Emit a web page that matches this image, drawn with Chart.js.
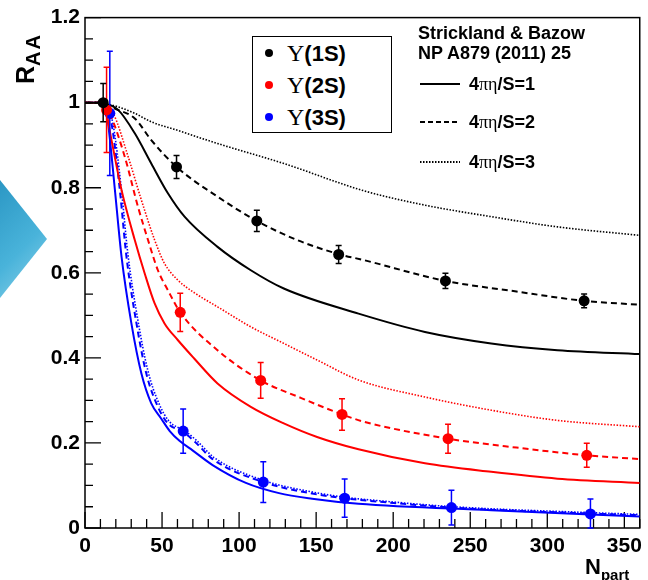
<!DOCTYPE html>
<html>
<head>
<meta charset="utf-8">
<script src="https://cdn.jsdelivr.net/npm/chart.js@4.4.1/dist/chart.umd.min.js"></script>
<style>
  body { margin: 0; background: #fff; }
  #wrap { position: relative; width: 648px; height: 580px; overflow: hidden;
          font-family: 'Liberation Sans', Arial, sans-serif; }
  #chart { position: absolute; left: 0; top: 0; }
  .lbl { position: absolute; font-weight: bold; color: #000; white-space: nowrap; }
  .serif { font-family: 'Liberation Serif', 'Times New Roman', serif; font-weight: normal; }
  #arrow { position: absolute; left: 0; top: 180px; width: 47px; height: 118px;
           background: linear-gradient(135deg, #2b97c4 0%, #49b3da 55%, #8fd3ea 100%);
           clip-path: polygon(0 0, 100% 50%, 0 100%); }
  #legendBox { position: absolute; left: 252px; top: 36px; width: 138px; height: 95px;
               border: 1.5px solid #000; background: #fff; }
  .dot { position: absolute; width: 8px; height: 8px; border-radius: 50%; }
  .row { position: absolute; left: 287px; font-size: 22px; line-height: 22px; font-weight: bold; }
  .row .serif { font-size: 24px; }
  .ann { position: absolute; font-size: 18px; line-height: 18px; font-weight: bold; }
</style>
</head>
<body>
<div id="wrap">
  <canvas id="chart" width="648" height="580"></canvas>
  <div id="arrow"></div>

  <div class="lbl" style="left:13px; top:84px; font-size:25px; line-height:25px; transform-origin:left top; transform:rotate(-90deg);">R<sub style="font-size:20px; vertical-align:-6px; letter-spacing:2px;">AA</sub></div>
  <div class="lbl" style="left:585px; top:556px; font-size:22px; line-height:22px;">N<sub style="font-size:15px; vertical-align:-6px;">part</sub></div>

  <div id="legendBox"></div>
  <div class="dot" style="left:265px; top:49px; background:#000;"></div>
  <div class="dot" style="left:265px; top:81px; background:#ff0000;"></div>
  <div class="dot" style="left:265px; top:113px; background:#0000ff;"></div>
  <div class="row" style="top:42px;"><span class="serif">Υ</span>(1S)</div>
  <div class="row" style="top:74px;"><span class="serif">Υ</span>(2S)</div>
  <div class="row" style="top:106px;"><span class="serif">Υ</span>(3S)</div>

  <div class="ann" style="left:418px; top:24px;">Strickland &amp; Bazow</div>
  <div class="ann" style="left:418px; top:44px;">NP A879 (2011) 25</div>

  <svg style="position:absolute; left:418px; top:70px;" width="46" height="100">
    <line x1="2" y1="14" x2="42" y2="14" stroke="#000" stroke-width="2"/>
    <line x1="2" y1="52" x2="42" y2="52" stroke="#000" stroke-width="2" stroke-dasharray="5,3"/>
    <line x1="2" y1="92" x2="42" y2="92" stroke="#000" stroke-width="2" stroke-dasharray="1.5,1.5"/>
  </svg>
  <div class="ann" style="left:469px; top:75px;">4<span class="serif">πη</span>/S=1</div>
  <div class="ann" style="left:469px; top:113px;">4<span class="serif">πη</span>/S=2</div>
  <div class="ann" style="left:469px; top:153px;">4<span class="serif">πη</span>/S=3</div>
</div>

<script>
// Strickland & Bazow curves, R_AA vs N_part
const ups1S_eta1_N = [0, 10, 12.3, 21.5, 32.3, 43, 53.8, 64.6, 86, 107.6, 129, 177.5, 220.6, 263.6, 306.6, 360];
const ups1S_eta1_R = [1, 1, 0.999, 0.983, 0.928, 0.857, 0.787, 0.732, 0.661, 0.606, 0.563, 0.504, 0.461, 0.434, 0.418, 0.409];
const ups1S_eta2_N = [0, 10, 13, 20, 32.3, 43, 59.4, 86, 111.5, 137.7, 164.6, 180.8, 233.9, 280, 323.9, 360];
const ups1S_eta2_R = [1, 1, 0.996, 0.985, 0.963, 0.912, 0.849, 0.779, 0.722, 0.677, 0.644, 0.63, 0.581, 0.556, 0.534, 0.525];
const ups1S_eta3_N = [0, 10, 13, 21.5, 32.3, 43, 60, 86, 129, 180.8, 220.6, 263.6, 306.6, 360];
const ups1S_eta3_R = [1, 1, 0.998, 0.99, 0.975, 0.955, 0.935, 0.904, 0.857, 0.793, 0.759, 0.732, 0.708, 0.688];

const ups2S_eta1_N = [0, 10, 12.9, 17.2, 23.7, 32.3, 38.7, 45.2, 51.6, 60.2, 71, 86, 107.6, 129, 150.6, 177.5, 220.6, 263.6, 306.6, 360];
const ups2S_eta1_R = [1, 1, 0.99, 0.912, 0.795, 0.677, 0.599, 0.528, 0.481, 0.442, 0.398, 0.34, 0.285, 0.246, 0.214, 0.185, 0.152, 0.132, 0.116, 0.106];
const ups2S_eta2_N = [0, 10, 13, 16, 25.8, 34.4, 40.9, 47.3, 53.8, 61.8, 86, 114, 140, 166.8, 180.8, 235.6, 280, 325.6, 360];
const ups2S_eta2_R = [1, 1, 0.99, 0.975, 0.873, 0.755, 0.677, 0.606, 0.559, 0.507, 0.418, 0.347, 0.306, 0.267, 0.25, 0.21, 0.189, 0.171, 0.162];
const ups2S_eta3_N = [0, 10, 14, 18.3, 28, 36.6, 45.2, 51.6, 60.2, 71, 86, 107.6, 129, 150.6, 177.5, 220.6, 263.6, 306.6, 360];
const ups2S_eta3_R = [1, 1, 0.99, 0.975, 0.873, 0.771, 0.677, 0.622, 0.583, 0.553, 0.52, 0.473, 0.434, 0.395, 0.348, 0.308, 0.277, 0.253, 0.238];

const ups3S_eta1_N = [0, 10, 13, 15, 19.4, 23.7, 30.1, 36.6, 43, 49.5, 55, 61.3, 70, 82.8, 104.4, 125.9, 147.4, 177.5, 263.6, 360];
const ups3S_eta1_R = [1, 1, 0.99, 0.951, 0.795, 0.638, 0.481, 0.363, 0.293, 0.257, 0.228, 0.205, 0.182, 0.148, 0.106, 0.082, 0.069, 0.057, 0.042, 0.027];
const ups3S_eta2_N = [0, 10, 13.5, 17.2, 22.6, 26.9, 33.4, 39.8, 47.3, 53.8, 63.5, 71, 82.8, 115.7, 147.4, 168.5, 190.4, 237.8, 328, 360];
const ups3S_eta2_R = [1, 1, 0.99, 0.951, 0.795, 0.638, 0.481, 0.363, 0.285, 0.246, 0.226, 0.204, 0.162, 0.108, 0.081, 0.07, 0.062, 0.048, 0.034, 0.03];
const ups3S_eta3_N = [0, 10, 14, 18, 23.5, 27.8, 34.3, 40.8, 48.3, 54.8, 64.5, 72, 84, 116.7, 148.4, 169.5, 191.4, 238.8, 329, 360];
const ups3S_eta3_R = [1, 1, 0.99, 0.953, 0.8, 0.645, 0.489, 0.37, 0.29, 0.25, 0.229, 0.207, 0.165, 0.111, 0.084, 0.072, 0.064, 0.05, 0.036, 0.032];

// data points with errors
const data1S_N = [11.8, 59.4, 111.5, 164.6, 233.9, 323.9];
const data1S_R = [1.0, 0.849, 0.722, 0.643, 0.581, 0.534];
const data1S_err = [0.045, 0.027, 0.025, 0.021, 0.018, 0.016];
const data2S_N = [14, 61.8, 114, 166.8, 235.6, 325.6];
const data2S_R = [0.983, 0.507, 0.347, 0.267, 0.21, 0.171];
const data2S_err = [0.1, 0.045, 0.042, 0.037, 0.034, 0.028];
const data3S_N = [16.1, 63.7, 115.7, 168.5, 237.8, 328];
const data3S_R = [0.975, 0.228, 0.108, 0.07, 0.048, 0.033];
const data3S_err = [0.146, 0.052, 0.048, 0.045, 0.041, 0.035];

const xTicksMax = 360;
const yTicksMax = 1.2;

function pts(xs, ys) {
  return xs.map((v, i) => ({x: v, y: ys[i]}));
}

function curve(xs, ys, color, style) {
  let dash = [];
  let width = 2;
  if (style == 'dash') dash = [6, 4];
  if (style == 'dot') { dash = [1.5, 1.6]; width = 1.6; }
  return {
    data: pts(xs, ys),
    showLine: true,
    borderColor: color,
    borderWidth: width,
    borderDash: dash,
    pointRadius: 0,
    cubicInterpolationMode: 'monotone',
    order: 2,
  };
}

function points(xs, ys, errs, color) {
  return {
    data: pts(xs, ys),
    err: errs,
    showLine: false,
    backgroundColor: color,
    borderColor: color,
    pointRadius: 5.5,
    pointBorderWidth: 0,
    order: 0,
  };
}

// ROOT-style frame with inward ticks
const frameTicks = {
  id: 'frameTicks',
  beforeDatasetsDraw(chart) {
    const {ctx, chartArea: a, scales: {x, y}} = chart;
    ctx.save();
    ctx.strokeStyle = '#000';
    ctx.lineWidth = 1.3;
    ctx.beginPath();
    for (let v = 0; v <= xTicksMax; v += 10) {
      const px = x.getPixelForValue(v);
      const len = v % 50 === 0 ? 16 : 9;
      ctx.moveTo(px, a.bottom);
      ctx.lineTo(px, a.bottom - len);
    }
    for (let i = 0; i * 0.05 <= yTicksMax + 1e-9; i++) {
      const py = y.getPixelForValue(i * 0.05);
      const len = i % 4 === 0 ? 16 : 8;
      ctx.moveTo(a.left, py);
      ctx.lineTo(a.left + len, py);
    }
    ctx.stroke();
    ctx.lineWidth = 1.5;
    ctx.strokeRect(a.left, a.top, a.right - a.left, a.bottom - a.top);
    ctx.restore();
  }
};

// vertical error bars, drawn just under each marker set
const errorBars = {
  id: 'errorBars',
  beforeDatasetDraw(chart, args) {
    const ds = chart.data.datasets[args.index];
    if (!ds.err) return;
    const {ctx, scales: {x, y}} = chart;
    ctx.save();
    ctx.strokeStyle = ds.borderColor;
    ctx.lineWidth = 1.5;
    ctx.beginPath();
    ds.data.forEach((p, i) => {
      const px = x.getPixelForValue(p.x);
      const top = y.getPixelForValue(p.y + ds.err[i]);
      const bot = y.getPixelForValue(Math.max(p.y - ds.err[i], 0));
      ctx.moveTo(px, top); ctx.lineTo(px, bot);
      ctx.moveTo(px - 3, top); ctx.lineTo(px + 3, top);
      ctx.moveTo(px - 3, bot); ctx.lineTo(px + 3, bot);
    });
    ctx.stroke();
    ctx.restore();
  }
};

const tickFont = {family: "'Liberation Sans', Arial, sans-serif", size: 21, weight: 'bold'};

new Chart(document.getElementById('chart'), {
  type: 'scatter',
  data: {
    datasets: [
      points(data1S_N, data1S_R, data1S_err, '#000000'),
      points(data2S_N, data2S_R, data2S_err, '#ff0000'),
      points(data3S_N, data3S_R, data3S_err, '#0000ff'),
      curve(ups1S_eta1_N, ups1S_eta1_R, '#000000', 'solid'),
      curve(ups1S_eta2_N, ups1S_eta2_R, '#000000', 'dash'),
      curve(ups1S_eta3_N, ups1S_eta3_R, '#000000', 'dot'),
      curve(ups2S_eta1_N, ups2S_eta1_R, '#ff0000', 'solid'),
      curve(ups2S_eta2_N, ups2S_eta2_R, '#ff0000', 'dash'),
      curve(ups2S_eta3_N, ups2S_eta3_R, '#ff0000', 'dot'),
      curve(ups3S_eta1_N, ups3S_eta1_R, '#0000ff', 'solid'),
      curve(ups3S_eta2_N, ups3S_eta2_R, '#0000ff', 'dash'),
      curve(ups3S_eta3_N, ups3S_eta3_R, '#0000ff', 'dot'),
    ]
  },
  options: {
    responsive: false,
    animation: false,
    layout: {autoPadding: false, padding: {top: 17, right: 5, left: 0, bottom: 0}},
    plugins: {legend: {display: false}, tooltip: {enabled: false}},
    scales: {
      x: {
        type: 'linear', min: 0, max: xTicksMax,
        grid: {display: false, drawTicks: false},
        border: {display: false},
        ticks: {stepSize: 50, includeBounds: false, color: '#000', font: tickFont, padding: 6, maxRotation: 0},
        afterFit(scale) { scale.height = 52; }
      },
      y: {
        type: 'linear', min: 0, max: yTicksMax,
        grid: {display: false, drawTicks: false},
        border: {display: false},
        ticks: {
          stepSize: 0.2, color: '#000', font: tickFont, padding: 5,
          callback: (v) => String(Math.round(v * 10) / 10)
        },
        afterFit(scale) { scale.width = 85; }
      }
    }
  },
  plugins: [frameTicks, errorBars]
});
</script>
</body>
</html>
